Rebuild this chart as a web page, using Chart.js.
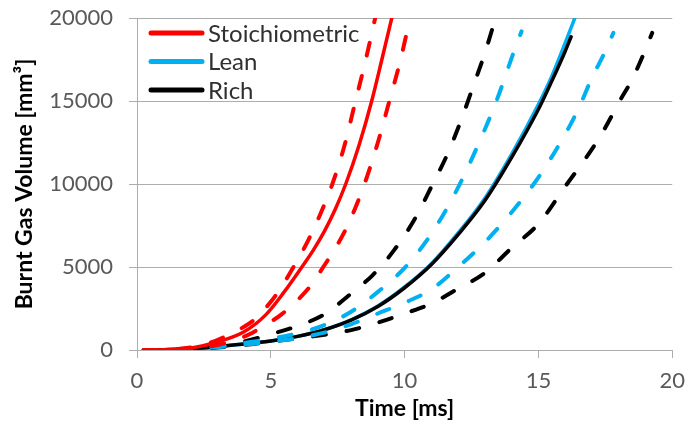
<!DOCTYPE html>
<html><head><meta charset="utf-8">
<script src="https://cdn.jsdelivr.net/npm/chart.js@4/dist/chart.umd.min.js"></script>
<style>html,body{margin:0;padding:0;background:#fff;}canvas{display:block}</style>
</head><body>
<canvas id="c" width="695" height="422"></canvas>
<script>
// Legend / series names
const seriesNames = ['Stoichiometric', 'Lean', 'Rich'];
const xTickValues = [0, 5, 10, 15, 20];
const yTickValues = [0, 5000, 10000, 15000, 20000];

// [time ms, burnt gas volume mm3]
const stoichSolid = [[0.25,0],[1,15],[2,110],[3,480],[4,1100],[4.8,2100],[5.5,3500],[6.16,5000],[6.6,6050],[7,7150],[7.4,8450],[7.8,10000],[8.3,12350],[8.77,15000],[9.15,17500],[9.52,20000]];
const stoichFast  = [[0.25,0],[1,20],[2,150],[3,600],[4,1400],[4.4,1850],[5,2900],[5.4,3800],[5.85,5000],[6.3,6300],[6.8,8000],[7.3,10000],[7.75,12300],[8.15,14900],[8.55,17500],[8.9,20000]];
const stoichSlow  = [[0.25,0],[1,10],[2,80],[3,300],[4,800],[4.2,950],[5,1700],[5.4,2150],[6,3000],[6.5,3900],[6.96,5000],[7.4,6100],[7.9,7600],[8.5,10000],[9.0,12500],[9.43,15000],[9.85,17500],[10.2,20000]];

const leanSolid = [[0.25,0],[1,15],[2,80],[3,200],[4,360],[5,540],[6,820],[7,1230],[8,1820],[9,2650],[10,3800],[11,5200],[12,7050],[13,9150],[14,11800],[15,14800],[15.5,16500],[16,18500],[16.36,20000]];
const leanFast  = [[0.25,0],[1,10],[2,80],[3,220],[4,420],[5,680],[6,1000],[7,1500],[8,2300],[9,3500],[10,4950],[11,7000],[12,9800],[13,13300],[13.5,15300],[14,17600],[14.37,19200]];
const leanSlow  = [[0.25,0],[1,10],[2,60],[3,170],[4,320],[5,500],[6,720],[7,1050],[8,1550],[9,2200],[10,2850],[11,3650],[12,5000],[13,6500],[14,8300],[15,10400],[16,13000],[16.5,14550],[17,16400],[17.5,18000],[17.8,19100]];

const richSolid = [[0.25,0],[1,15],[2,80],[3,200],[4,360],[5,540],[6,820],[7,1220],[8,1800],[9,2620],[10,3750],[11,5150],[12,6950],[13,9000],[14,11600],[15,14500],[15.5,16200],[16,18000],[16.22,18870]];
const richFast  = [[0.25,0],[1,15],[2,100],[3,280],[4,520],[5,950],[6,1450],[7,2150],[8,3400],[8.8,4500],[9.6,6000],[10.4,7950],[11.05,10000],[11.6,11800],[12.1,13800],[12.5,15600],[13.0,17900],[13.4,20000]];
const richSlow  = [[0.25,0],[1,10],[2,50],[3,150],[4,300],[5,500],[6,700],[7,920],[8,1200],[9,1650],[10,2200],[11,2800],[12,3700],[13,4650],[14,6150],[15,7600],[16,9850],[17,12100],[17.5,13400],[18,14900],[18.5,16300],[19,18100],[19.25,19100]];

const RED = '#FF0000', BLUE = '#00B0F0', BLACK = '#000000';
const toXY = arr => arr.map(p => ({x: p[0], y: p[1]}));

function solid(label, data, color) {
  return {label, data: toXY(data), borderColor: color, backgroundColor: color, borderWidth: 3.5,
    pointRadius: 0, cubicInterpolationMode: 'monotone', borderCapStyle: 'round', fill: false};
}
function dashed(label, data, color) {
  return {label, data: toXY(data), borderColor: color, backgroundColor: color, borderWidth: 4,
    borderDash: [13, 21], borderCapStyle: 'round', pointRadius: 0, cubicInterpolationMode: 'monotone', fill: false};
}

const datasets = [
  solid(seriesNames[0], stoichSolid, RED),
  dashed(seriesNames[0] + ' fast', stoichFast, RED),
  dashed(seriesNames[0] + ' slow', stoichSlow, RED),
  dashed(seriesNames[1] + ' fast', leanFast, BLUE),
  dashed(seriesNames[1] + ' slow', leanSlow, BLUE),
  solid(seriesNames[2], richSolid, BLACK),
  solid(seriesNames[1], leanSolid, BLUE),
  dashed(seriesNames[2] + ' fast', richFast, BLACK),
  dashed(seriesNames[2] + ' slow', richSlow, BLACK)
];

const legendRows = [
  {label: seriesNames[0], color: RED},
  {label: seriesNames[1], color: BLUE},
  {label: seriesNames[2], color: BLACK}
];

const insideLegend = {
  id: 'insideLegend',
  afterDatasetsDraw(chart) {
    const ctx = chart.ctx, a = chart.chartArea;
    ctx.save();
    ctx.font = '24px Lato';
    ctx.textBaseline = 'middle';
    ctx.textAlign = 'left';
    legendRows.forEach((r, i) => {
      const y = a.top + 15 + i * 28.5;
      ctx.strokeStyle = r.color; ctx.lineWidth = 5; ctx.lineCap = 'round';
      ctx.beginPath(); ctx.moveTo(a.left + 14, y); ctx.lineTo(a.left + 65, y); ctx.stroke();
      ctx.fillStyle = '#303030';
      ctx.fillText(r.label, a.left + 71, y + 1);
    });
    ctx.restore();
  }
};

const GRID = '#ADADAD';
new Chart(document.getElementById('c'), {
  type: 'line',
  data: {datasets},
  plugins: [insideLegend],
  options: {
    responsive: false,
    animation: false,
    events: [],
    layout: {padding: {top: 18, right: 18, left: 0, bottom: 0}},
    plugins: {legend: {display: false}, tooltip: {enabled: false}},
    scales: {
      x: {
        type: 'linear', min: 0, max: 20,
        afterBuildTicks: s => { s.ticks = xTickValues.map(v => ({value: v})); },
        afterFit: s => { s.height = 72; },
        ticks: {font: {family: 'Lato', size: 22}, color: '#595959', padding: 10, maxRotation: 0, callback: v => String(v)},
        grid: {drawOnChartArea: false, drawTicks: true, tickLength: 8, color: GRID, lineWidth: 1},
        border: {display: true, color: GRID, width: 1},
        title: {display: true, text: 'Time [ms]', font: {family: 'Lato', size: 23, weight: 'bold'}, color: '#000', padding: {top: 0, bottom: 0}}
      },
      y: {
        type: 'linear', min: 0, max: 20000,
        afterBuildTicks: s => { s.ticks = yTickValues.map(v => ({value: v})); },
        afterFit: s => { s.width = 137; s.paddingTop = 0; s.paddingBottom = 0; },
        ticks: {font: {family: 'Lato', size: 22}, color: '#595959', padding: 16, callback: v => String(v)},
        grid: {drawOnChartArea: true, drawTicks: true, tickLength: 8, color: GRID, lineWidth: 1},
        border: {display: true, color: GRID, width: 1},
        title: {display: true, text: 'Burnt Gas Volume [mm³]', font: {family: 'Lato', size: 23, weight: 'bold'}, color: '#000', padding: {top: 11, bottom: 0}}
      }
    }
  }
});
</script>
</body></html>
